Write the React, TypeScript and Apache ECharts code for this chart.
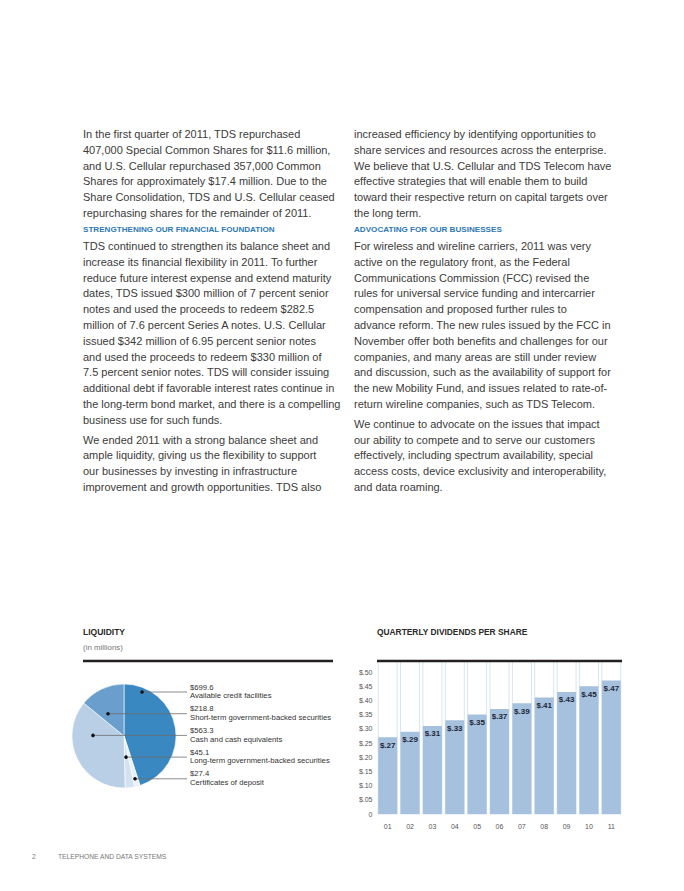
import React, { useEffect, useRef } from "react";
import * as echarts from "echarts";

// ---------- page text ----------
const leftPara1 = [
  "In the first quarter of 2011, TDS repurchased",
  "407,000 Special Common Shares for $11.6 million,",
  "and U.S. Cellular repurchased 357,000 Common",
  "Shares for approximately $17.4 million. Due to the",
  "Share Consolidation, TDS and U.S. Cellular ceased",
  "repurchasing shares for the remainder of 2011.",
];
const leftHeading = "STRENGTHENING OUR FINANCIAL FOUNDATION";
const leftPara2 = [
  "TDS continued to strengthen its balance sheet and",
  "increase its financial flexibility in 2011. To further",
  "reduce future interest expense and extend maturity",
  "dates, TDS issued $300 million of 7 percent senior",
  "notes and used the proceeds to redeem $282.5",
  "million of 7.6 percent Series A notes. U.S. Cellular",
  "issued $342 million of 6.95 percent senior notes",
  "and used the proceeds to redeem $330 million of",
  "7.5 percent senior notes. TDS will consider issuing",
  "additional debt if favorable interest rates continue in",
  "the long-term bond market, and there is a compelling",
  "business use for such funds.",
];
const leftPara3 = [
  "We ended 2011 with a strong balance sheet and",
  "ample liquidity, giving us the flexibility to support",
  "our businesses by investing in infrastructure",
  "improvement and growth opportunities. TDS also",
];
const rightPara1 = [
  "increased efficiency by identifying opportunities to",
  "share services and resources across the enterprise.",
  "We believe that U.S. Cellular and TDS Telecom have",
  "effective strategies that will enable them to build",
  "toward their respective return on capital targets over",
  "the long term.",
];
const rightHeading = "ADVOCATING FOR OUR BUSINESSES";
const rightPara2 = [
  "For wireless and wireline carriers, 2011 was very",
  "active on the regulatory front, as the Federal",
  "Communications Commission (FCC) revised the",
  "rules for universal service funding and intercarrier",
  "compensation and proposed further rules to",
  "advance reform. The new rules issued by the FCC in",
  "November offer both benefits and challenges for our",
  "companies, and many areas are still under review",
  "and discussion, such as the availability of support for",
  "the new Mobility Fund, and issues related to rate-of-",
  "return wireline companies, such as TDS Telecom.",
];
const rightPara3 = [
  "We continue to advocate on the issues that impact",
  "our ability to compete and to serve our customers",
  "effectively, including spectrum availability, special",
  "access costs, device exclusivity and interoperability,",
  "and data roaming.",
];

// ---------- liquidity pie ----------
const liquidityTitle = "LIQUIDITY";
const liquiditySubtitle = "(in millions)";
// clockwise order from 12 o'clock
const pieNames = [
  "Available credit facilities",
  "Certificates of deposit",
  "Long-term government-backed securities",
  "Cash and cash equivalents",
  "Short-term government-backed securities",
];
const pieValues = [699.6, 27.4, 45.1, 563.3, 218.8];
const pieColors = ["#3a88c2", "#e9f0f8", "#d3e2f0", "#b8cfe6", "#6a9fcd"];
// annotation order (top to bottom)
const annotationOrder = [0, 4, 3, 2, 1];

// ---------- dividends bar ----------
const dividendTitle = "QUARTERLY DIVIDENDS PER SHARE";
const years = ["01", "02", "03", "04", "05", "06", "07", "08", "09", "10", "11"];
const dividends = [0.27, 0.29, 0.31, 0.33, 0.35, 0.37, 0.39, 0.41, 0.43, 0.45, 0.47];

const footerPage = "2";
const footerText = "TELEPHONE AND DATA SYSTEMS";

const BODY_FONT = "11px 'Liberation Sans', Arial, sans-serif";
const HEAD_FONT = "bold 8.1px 'Liberation Sans', Arial, sans-serif";
const TEXT_COLOR = "#3b3b3b";
const HEAD_COLOR = "#2d78b6";
const LINE = 15.8;

function paragraph(lines: string[], x: number, y0: number) {
  return lines.map((t, i) => ({
    type: "text",
    x,
    y: y0 + i * LINE,
    silent: true,
    style: { text: t, font: BODY_FONT, fill: TEXT_COLOR, verticalAlign: "middle" },
  }));
}

export default function App() {
  const ref = useRef<HTMLDivElement>(null);
  useEffect(() => {
    if (!ref.current) return;
    const chart = echarts.init(ref.current, null, { renderer: "svg" });

    const graphics: any[] = [];
    // left column
    graphics.push(...paragraph(leftPara1, 83, 134));
    graphics.push({
      type: "text", x: 83, y: 229, silent: true,
      style: { text: leftHeading, font: HEAD_FONT, fill: HEAD_COLOR, verticalAlign: "middle" },
    });
    graphics.push(...paragraph(leftPara2, 83, 246));
    graphics.push(...paragraph(leftPara3, 83, 246 + (leftPara2.length - 1) * LINE + 19.7));
    // right column
    graphics.push(...paragraph(rightPara1, 354, 134));
    graphics.push({
      type: "text", x: 354, y: 229, silent: true,
      style: { text: rightHeading, font: HEAD_FONT, fill: HEAD_COLOR, verticalAlign: "middle" },
    });
    graphics.push(...paragraph(rightPara2, 354, 246));
    graphics.push(...paragraph(rightPara3, 354, 246 + (rightPara2.length - 1) * LINE + 19.7));

    // chart titles
    graphics.push({
      type: "text", x: 83, y: 632, silent: true,
      style: { text: liquidityTitle, font: "bold 8.5px 'Liberation Sans', Arial, sans-serif", fill: "#2a2a2a", verticalAlign: "middle" },
    });
    graphics.push({
      type: "text", x: 83, y: 647, silent: true,
      style: { text: liquiditySubtitle, font: "7.9px 'Liberation Sans', Arial, sans-serif", fill: "#777", verticalAlign: "middle" },
    });
    graphics.push({
      type: "line", silent: true,
      shape: { x1: 83, y1: 661, x2: 333, y2: 661 },
      style: { stroke: "#231f20", lineWidth: 2.5 },
    });
    graphics.push({
      type: "text", x: 377, y: 632, silent: true,
      style: { text: dividendTitle, font: "bold 8.4px 'Liberation Sans', Arial, sans-serif", fill: "#2a2a2a", verticalAlign: "middle" },
    });
    graphics.push({
      type: "line", silent: true, z: 100,
      shape: { x1: 377, y1: 661, x2: 622, y2: 661 },
      style: { stroke: "#231f20", lineWidth: 2.5 },
    });

    // pie annotations
    const dotX = [142, 108, 93, 126, 135];
    annotationOrder.forEach((idx, k) => {
      const vy = 687 + k * 21.7;
      const ly = vy + 5;
      graphics.push({
        type: "line", silent: true, z: 100,
        shape: { x1: dotX[k], y1: ly, x2: 187, y2: ly },
        style: { stroke: "#6d6d6d", lineWidth: 0.8 },
      });
      graphics.push({
        type: "circle", silent: true, z: 101,
        shape: { cx: dotX[k], cy: ly, r: 1.8 },
        style: { fill: "#111" },
      });
      graphics.push({
        type: "text", x: 190, y: vy, silent: true,
        style: { text: "$" + pieValues[idx].toFixed(1), font: "7.7px 'Liberation Sans', Arial, sans-serif", fill: "#333", verticalAlign: "middle" },
      });
      graphics.push({
        type: "text", x: 190, y: vy + 8.7, silent: true,
        style: { text: pieNames[idx], font: "7.7px 'Liberation Sans', Arial, sans-serif", fill: "#333", verticalAlign: "middle" },
      });
    });

    // footer
    graphics.push({
      type: "text", x: 32, y: 856, silent: true,
      style: { text: footerPage, font: "6.7px 'Liberation Sans', Arial, sans-serif", fill: "#777", verticalAlign: "middle" },
    });
    graphics.push({
      type: "text", x: 58, y: 856, silent: true,
      style: { text: footerText, font: "6.7px 'Liberation Sans', Arial, sans-serif", fill: "#777", verticalAlign: "middle" },
    });

    const isTick = (v: number) => Math.abs(v / 0.05 - Math.round(v / 0.05)) < 1e-6;

    chart.setOption({
      animation: false,
      backgroundColor: "#ffffff",
      graphic: { elements: graphics },
      grid: { left: 376.5, top: 661, width: 246, height: 153, containLabel: false },
      xAxis: {
        type: "category",
        data: years,
        axisLine: { show: false },
        axisTick: { show: false },
        axisLabel: { color: "#555", fontSize: 7, margin: 9, fontFamily: "'Liberation Sans', Arial, sans-serif" },
      },
      yAxis: {
        type: "value",
        min: 0,
        max: 153 / 284,
        interval: 0.05,
        axisLine: { show: false },
        axisTick: { show: false },
        splitLine: { show: false },
        axisLabel: {
          color: "#555",
          fontSize: 7,
          margin: 4,
          fontFamily: "'Liberation Sans', Arial, sans-serif",
          formatter: (v: number) => (!isTick(v) ? "" : v === 0 ? "0" : "$" + v.toFixed(2).slice(1)),
        },
      },
      series: [
        {
          type: "bar",
          data: dividends,
          barWidth: 19,
          silent: true,
          itemStyle: { color: "#a6c1dd" },
          showBackground: true,
          backgroundStyle: { color: "#ffffff", borderColor: "#d9e5f1", borderWidth: 1 },
          label: {
            show: true,
            position: "insideTop",
            distance: 4,
            color: "#1d2638",
            fontWeight: "bold",
            fontSize: 8,
            fontFamily: "'Liberation Sans', Arial, sans-serif",
            formatter: (p: any) => "$" + p.value.toFixed(2).slice(1),
          },
        },
        {
          type: "pie",
          center: [124, 736],
          radius: 52,
          startAngle: 90,
          clockwise: true,
          silent: true,
          label: { show: false },
          labelLine: { show: false },
          itemStyle: { borderColor: "#ffffff", borderWidth: 0.6 },
          data: pieNames.map((n, i) => ({ name: n, value: pieValues[i], itemStyle: { color: pieColors[i] } })),
        },
      ],
    });
    return () => chart.dispose();
  }, []);
  return <div ref={ref} style={{ position: "absolute", left: 0, top: 0, width: 684, height: 891 }} />;
}
